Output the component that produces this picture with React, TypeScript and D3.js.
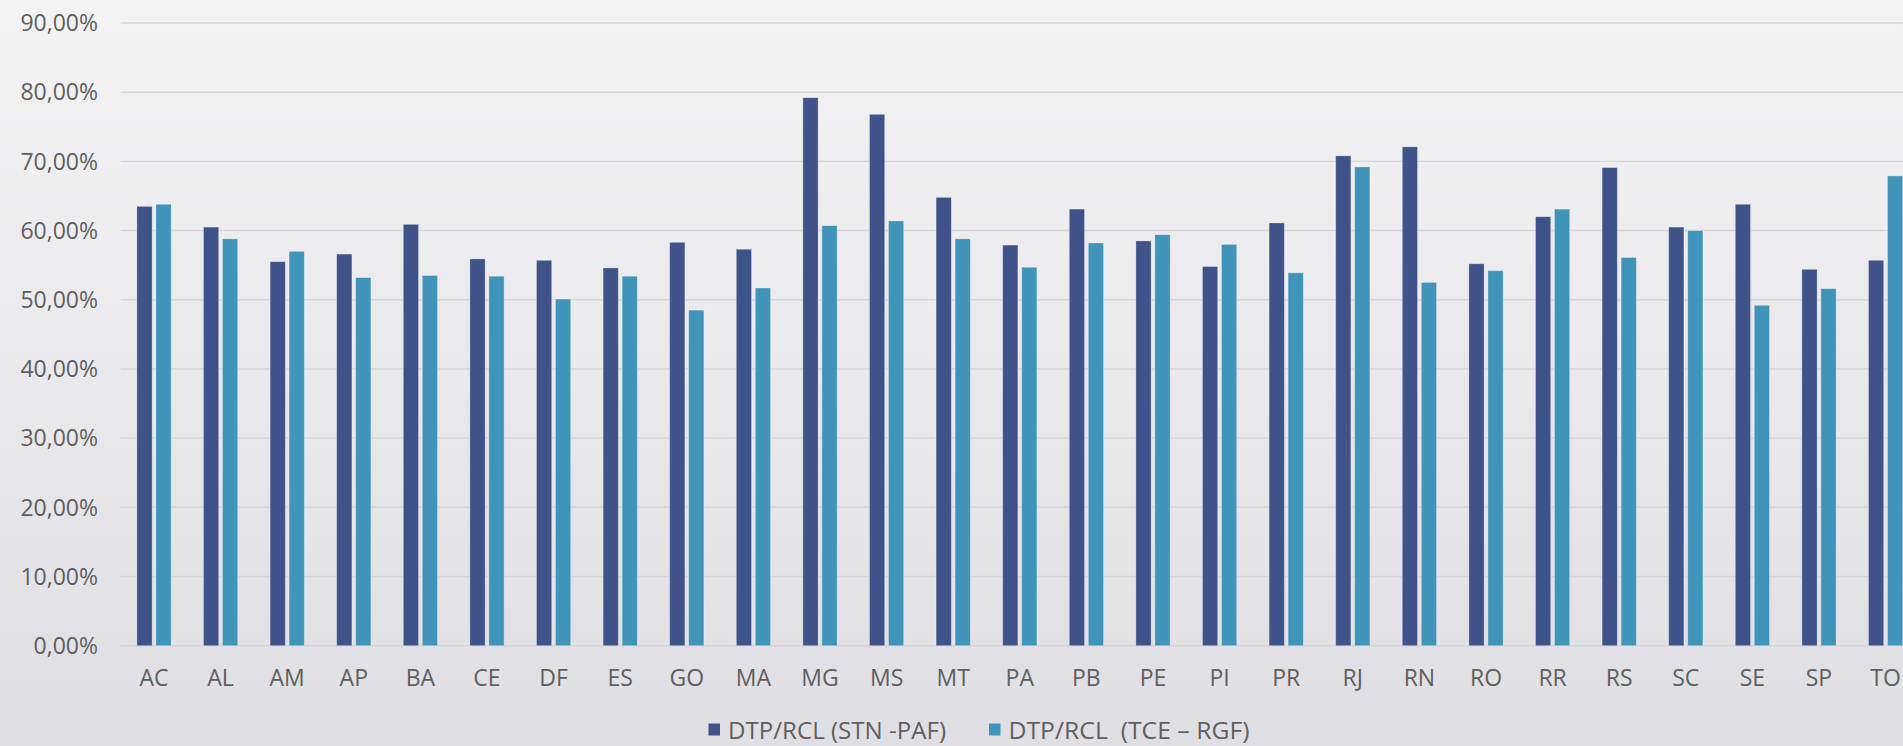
import React from "react";
import * as d3 from "d3";

// Brazilian states (UF)
const categories = [
  "AC", "AL", "AM", "AP", "BA", "CE", "DF", "ES", "GO", "MA", "MG", "MS", "MT", "PA",
  "PB", "PE", "PI", "PR", "RJ", "RN", "RO", "RR", "RS", "SC", "SE", "SP", "TO",
];

// DTP/RCL ratio (percent) – STN / PAF methodology
const stnPaf = [
  63.5, 60.5, 55.5, 56.6, 60.9, 55.9, 55.7, 54.6, 58.3, 57.3, 79.2, 76.8, 64.8, 57.9,
  63.1, 58.5, 54.8, 61.1, 70.8, 72.1, 55.2, 62.0, 69.1, 60.5, 63.8, 54.4, 55.7,
];

// DTP/RCL ratio (percent) – TCE / RGF methodology
const tceRgf = [
  63.8, 58.8, 57.0, 53.2, 53.5, 53.4, 50.1, 53.4, 48.5, 51.7, 60.7, 61.4, 58.8, 54.7,
  58.2, 59.4, 58.0, 53.9, 69.2, 52.5, 54.2, 63.1, 56.1, 60.0, 49.2, 51.6, 67.9,
];

const yTicks = [0, 10, 20, 30, 40, 50, 60, 70, 80, 90];

const seriesNames = ["DTP/RCL (STN -PAF)", "DTP/RCL  (TCE \u2013 RGF)"];
const seriesColors = ["#40528a", "#4194b9"];

const W = 1903;
const H = 746;
const FONT = "'Open Sans', 'DejaVu Sans', sans-serif";
const TEXT = "#5f5f5f";

export default function App() {
  const left = 120.7;
  const step = 66.6;
  const x0 = d3
    .scaleBand<string>()
    .domain(categories)
    .range([left, left + step * categories.length])
    .padding(0);

  const groupW = 34.2;
  const x1 = d3
    .scaleBand<string>()
    .domain(seriesNames)
    .range([(step - groupW) / 2, (step + groupW) / 2])
    .paddingInner(0.2)
    .paddingOuter(0);

  const y = d3.scaleLinear().domain([0, 90]).range([645.7, 23]);
  const fmt = (v: number) => v.toFixed(2).replace(".", ",") + "%";

  const series = [stnPaf, tceRgf];

  return (
    <svg
      width={W}
      height={H}
      style={{ position: "absolute", left: 0, top: 0, display: "block" }}
    >
      <defs>
        <linearGradient id="bg" x1="0" y1="0" x2="0" y2="1">
          <stop offset="0" stopColor="#f3f3f4" />
          <stop offset="1" stopColor="#dfdee2" />
        </linearGradient>
      </defs>
      <rect x={0} y={0} width={W} height={H} fill="url(#bg)" />

      {/* horizontal gridlines and y-axis labels */}
      {yTicks.map((t) => (
        <g key={t}>
          <line
            x1={left}
            x2={W}
            y1={y(t)}
            y2={y(t)}
            stroke="#d6d6d9"
            strokeWidth={1.4}
          />
          <text
            x={98}
            y={y(t)}
            dy="0.36em"
            textAnchor="end"
            fontFamily={FONT}
            fontSize={23}
            fill={TEXT}
          >
            {fmt(t)}
          </text>
        </g>
      ))}

      {/* grouped bars */}
      {categories.map((c, i) => (
        <g key={c} transform={`translate(${x0(c)},0)`}>
          {series.map((vals, s) => (
            <rect
              key={s}
              x={x1(seriesNames[s])}
              y={y(vals[i])}
              width={x1.bandwidth()}
              height={y(0) - y(vals[i])}
              fill={seriesColors[s]}
              stroke="rgba(255,255,255,0.35)"
              strokeWidth={0.8}
            />
          ))}
          <text
            x={x0.bandwidth() / 2}
            y={686}
            textAnchor="middle"
            fontFamily={FONT}
            fontSize={23}
            fill={TEXT}
          >
            {c}
          </text>
        </g>
      ))}

      {/* legend */}
      {[
        { sx: 708.5, tx: 728, len: 218 },
        { sx: 989, tx: 1008.5, len: 241 },
      ].map((l, s) => (
        <g key={s}>
          <rect x={l.sx} y={723.5} width={11.5} height={12} fill={seriesColors[s]} />
          <text
            x={l.tx}
            y={739}
            fontFamily={FONT}
            fontSize={23}
            fill={TEXT}
            textLength={l.len}
            lengthAdjust="spacingAndGlyphs"
            style={{ whiteSpace: "pre" }}
          >
            {seriesNames[s]}
          </text>
        </g>
      ))}
    </svg>
  );
}
